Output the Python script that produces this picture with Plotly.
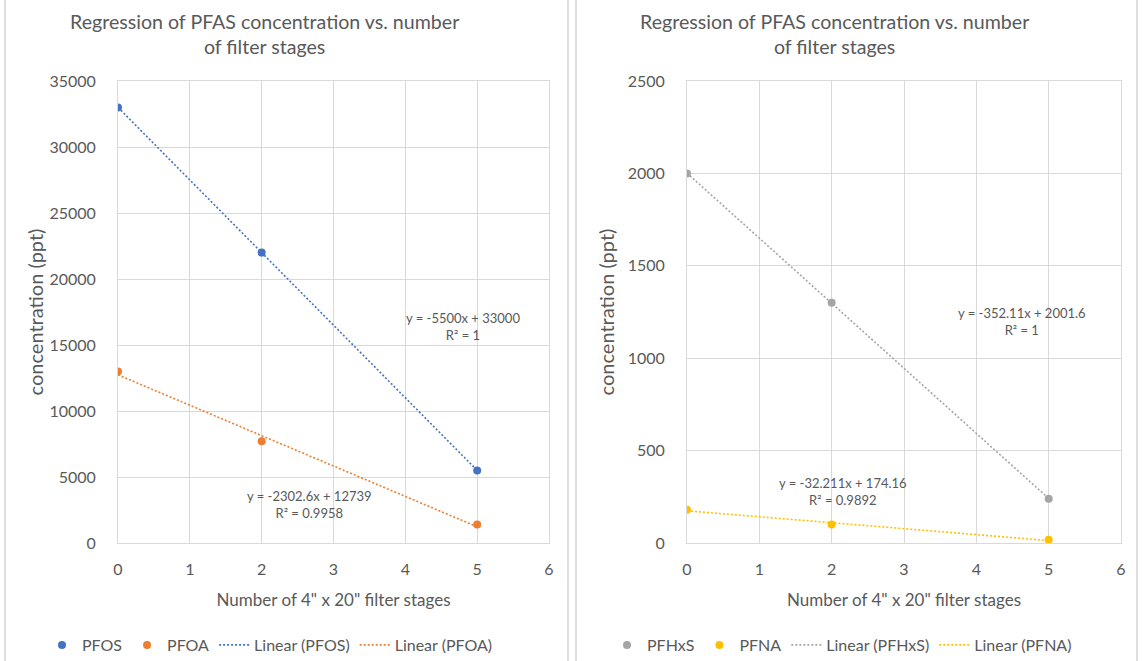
import numpy as np
import plotly.graph_objects as go

# ---------------- data ----------------
stages = [0, 2, 5]
pfos = [33000, 22000, 5500]
pfoa = [13000, 7700, 1400]
pfhxs = [2000, 1300, 240]
pfna = [180, 100, 17]

x_ticks = [0, 1, 2, 3, 4, 5, 6]
left_yticks = [0, 5000, 10000, 15000, 20000, 25000, 30000, 35000]
right_yticks = [0, 500, 1000, 1500, 2000, 2500]

title_text = "Regression of PFAS concentration vs. number<br>of filter stages"
xtitle = 'Number of 4" x 20" filter stages'
ytitle = "concentration (ppt)"

# ---------------- styles ----------------
W, H = 1143, 661
TXT = "#595959"
GRID = "#D9D9D9"
FONT = "Lato, 'Open Sans', sans-serif"
C_PFOS, C_PFOA, C_PFHXS, C_PFNA = "#4472C4", "#ED7D31", "#A5A5A5", "#FFC000"


def px_x(p):
    return p / W


def px_y(p):
    return 1 - p / H


def fit(x, y):
    slope, intercept = np.polyfit(x, y, 1)
    xs = np.array([min(x), max(x)])
    return xs, slope * xs + intercept


fig = go.Figure()


def add_series(name, y, color, xa, ya, legend):
    fig.add_trace(go.Scatter(
        x=stages, y=y, mode="markers", name=name,
        marker=dict(color=color, size=8),
        xaxis=xa, yaxis=ya, legend=legend,
    ))


def add_trend(name, y, color, xa, ya, legend):
    xs, ys = fit(stages, y)
    fig.add_trace(go.Scatter(
        x=xs, y=ys, mode="lines", name=f"Linear ({name})",
        line=dict(color=color, width=1.6, dash="2px,2px"),
        xaxis=xa, yaxis=ya, legend=legend,
    ))


add_series("PFOS", pfos, C_PFOS, "x", "y", "legend")
add_series("PFOA", pfoa, C_PFOA, "x", "y", "legend")
add_trend("PFOS", pfos, C_PFOS, "x", "y", "legend")
add_trend("PFOA", pfoa, C_PFOA, "x", "y", "legend")

add_series("PFHxS", pfhxs, C_PFHXS, "x2", "y2", "legend2")
add_series("PFNA", pfna, C_PFNA, "x2", "y2", "legend2")
add_trend("PFHxS", pfhxs, C_PFHXS, "x2", "y2", "legend2")
add_trend("PFNA", pfna, C_PFNA, "x2", "y2", "legend2")

xaxis_common = dict(
    range=[0, 6], tickvals=x_ticks, showgrid=True, gridcolor=GRID, gridwidth=1,
    showline=True, linecolor=GRID, mirror=True, zeroline=False, automargin=False,
    tickfont=dict(size=16, color=TXT, family=FONT), ticks="", ticklabelstandoff=12,
    title=dict(text=xtitle, font=dict(size=17, color=TXT, family=FONT), standoff=16),
    fixedrange=True,
)
yaxis_common = dict(
    showgrid=True, gridcolor=GRID, gridwidth=1, tickformat="d",
    showline=True, linecolor=GRID, mirror=True, zeroline=False, automargin=False,
    tickfont=dict(size=16, color=TXT, family=FONT), ticks="", ticklabelstandoff=18,
    fixedrange=True,
)

y_dom = [px_y(543), px_y(81)]

fig.update_layout(
    template="plotly_white",
    width=W, height=H,
    margin=dict(l=0, r=0, t=0, b=0, autoexpand=False),
    paper_bgcolor="white", plot_bgcolor="white",
    font=dict(family=FONT, color=TXT),
    xaxis=dict(xaxis_common, domain=[px_x(118), px_x(549)], anchor="y"),
    yaxis=dict(yaxis_common, domain=y_dom, anchor="x", range=[0, 35000],
               tickvals=left_yticks,
               title=dict(text=ytitle, font=dict(size=20, color=TXT, family=FONT),
                          standoff=0)),
    xaxis2=dict(xaxis_common, domain=[px_x(687), px_x(1121)], anchor="y2"),
    yaxis2=dict(yaxis_common, domain=y_dom, anchor="x2", range=[0, 2500],
                tickvals=right_yticks,
                title=dict(text=ytitle, font=dict(size=20, color=TXT, family=FONT),
                           standoff=7)),
    legend=dict(orientation="h", x=px_x(270), y=px_y(645), xanchor="center",
                yanchor="middle", font=dict(size=16, color=TXT, family=FONT),
                bgcolor="rgba(0,0,0,0)", itemwidth=30),
    legend2=dict(orientation="h", x=px_x(842), y=px_y(645), xanchor="center",
                 yanchor="middle", font=dict(size=16, color=TXT, family=FONT),
                 bgcolor="rgba(0,0,0,0)", itemwidth=30),
    showlegend=True,
)

# chart titles
for cx in (264, 834):
    fig.add_annotation(
        x=px_x(cx), y=px_y(34), xref="paper", yref="paper",
        text=title_text, showarrow=False, xanchor="center", yanchor="middle",
        font=dict(size=19.6, color=TXT, family=FONT), align="center",
    )

# trendline equations
eqs = [
    ("x", "y", 4.80, 16400, "y = -5500x + 33000<br>R² = 1"),
    ("x", "y", 2.67, 2920, "y = -2302.6x + 12739<br>R² = 0.9958"),
    ("x2", "y2", 4.63, 1199, "y = -352.11x + 2001.6<br>R² = 1"),
    ("x2", "y2", 2.16, 281, "y = -32.211x + 174.16<br>R² = 0.9892"),
]
for xr, yr, ex, ey, t in eqs:
    fig.add_annotation(
        x=ex, y=ey, xref=xr, yref=yr, text=t, showarrow=False,
        xanchor="center", yanchor="middle", align="center",
        font=dict(size=13, color=TXT, family=FONT),
    )

# chart-area borders
for bx in (5, 568, 576, 1137):
    fig.add_shape(type="line", xref="paper", yref="paper",
                  x0=px_x(bx), x1=px_x(bx), y0=0, y1=1,
                  line=dict(color="#C8C8C8", width=1.2))

fig.write_html(
    "out.html",
    config={"displayModeBar": False, "staticPlot": False},
    post_script="document.body.style.margin='0';document.body.style.overflow='hidden';",
)
